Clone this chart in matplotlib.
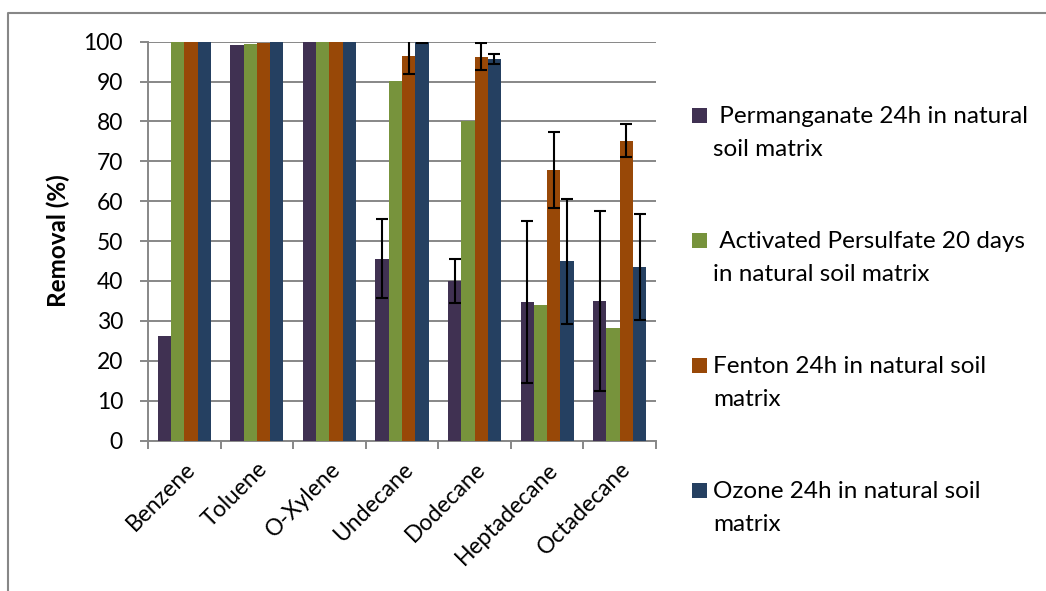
#!/usr/bin/env python
# coding:utf-8

"""
removal_bars.py
"""

import matplotlib
matplotlib.use("Agg")
import matplotlib.pyplot as plt
from matplotlib.lines import Line2D
from matplotlib.patches import Rectangle
import numpy as np

compounds = ["Benzene", "Toluene", "O-Xylene", "Undecane",
             "Dodecane", "Heptadecane", "Octadecane"]

series_names = [
    " Permanganate 24h in natural\nsoil matrix",
    " Activated Persulfate 20 days\nin natural soil matrix",
    "Fenton 24h in natural soil\nmatrix",
    "Ozone 24h in natural soil\nmatrix",
]

permanganate = [26.1, 99.2, 100, 45.6, 40.0, 34.7, 35.0]
persulfate = [100, 99.4, 100, 90.2, 80.1, 33.9, 28.2]
fenton = [100, 99.6, 100, 96.4, 96.2, 67.8, 75.2]
ozone = [100, 100, 100, 100, 95.6, 44.9, 43.5]

# standard deviations, 0 where none was reported
permanganate_err = [0, 0, 0, 9.9, 5.6, 20.4, 22.6]
persulfate_err = [0, 0, 0, 0, 0, 0, 0]
fenton_err = [0, 0, 0, 4.6, 3.4, 9.6, 4.2]
ozone_err = [0, 0, 0, 0.3, 1.3, 15.6, 13.3]

colors = ["#403152", "#77933C", "#984807", "#254061"]
GRAY = "#878787"

W, H = 1046, 591
plt.rcParams["font.family"] = ["Lato", "DejaVu Sans"]


def fx(px):
    return px / W


def fy(py):
    return 1 - py / H


def main():
    fig = plt.figure(figsize=(W / 100, H / 100), dpi=100)
    ax = fig.add_axes([fx(148), fy(440.5), fx(656) - fx(148), fy(41.7) - fy(440.5)])

    values = [permanganate, persulfate, fenton, ozone]
    errors = [permanganate_err, persulfate_err, fenton_err, ozone_err]
    x = np.arange(len(compounds))
    width = 0.183

    for k in range(4):
        pos = x + (k - 1.5) * width
        vals = np.array(values[k], dtype=float)
        err = np.array(errors[k], dtype=float)
        ax.bar(pos, vals, width=width, color=colors[k], zorder=3)
        m = err > 0
        if m.any():
            ax.errorbar(pos[m], vals[m], yerr=err[m], fmt="none",
                        ecolor="black", elinewidth=1.5, capsize=4.3,
                        capthick=1.5, zorder=4)

    ax.set_xlim(-0.5, len(compounds) - 0.5)
    ax.set_ylim(0, 100)
    ax.set_yticks(np.arange(0, 101, 10))
    ax.yaxis.grid(True, color=GRAY, linewidth=1.4, zorder=0)
    ax.set_axisbelow(True)

    # category boundaries carry the ticks, names sit at the centres
    ax.set_xticks(np.arange(-0.5, len(compounds), 1))
    ax.set_xticklabels([])
    ax.set_xticks(x, minor=True)
    ax.set_xticklabels(compounds, minor=True, rotation=45, ha="right",
                       rotation_mode="anchor", fontsize=16.5)
    ax.tick_params(axis="x", which="minor", length=0, pad=13)
    ax.tick_params(axis="x", which="major", length=6, color=GRAY,
                   width=1.4)
    ax.tick_params(axis="y", labelsize=16.5, length=6, color=GRAY,
                   width=1.4, pad=12)

    for s in ["top", "right"]:
        ax.spines[s].set_visible(False)
    for s in ["left", "bottom"]:
        ax.spines[s].set_color(GRAY)
        ax.spines[s].set_linewidth(1.4)

    ax.set_ylabel("Removal (%)", fontsize=17.5, fontweight="bold")
    ax.yaxis.set_label_coords((70 - 148) / 508, 0.5)

    # legend drawn by hand so that swatches sit on the first text line
    for k in range(4):
        base = 123 + 125 * k
        fig.add_artist(Rectangle((fx(692), fy(base)), fx(15), fy(0) - fy(15),
                                 transform=fig.transFigure,
                                 facecolor=colors[k], edgecolor="none"))
        first, second = series_names[k].split("\n")
        fig.text(fx(713), fy(base), first, fontsize=17.5, va="baseline")
        fig.text(fx(713), fy(base + 33), second, fontsize=17.5, va="baseline")

    # chart area border
    fig.add_artist(Line2D([fx(8), fx(8), 1.0], [0.0, fy(12.5), fy(12.5)],
                          transform=fig.transFigure, color=GRAY,
                          linewidth=1.5))

    fig.savefig("out.png", dpi=100, facecolor="white")


if __name__ == "__main__":
    main()
